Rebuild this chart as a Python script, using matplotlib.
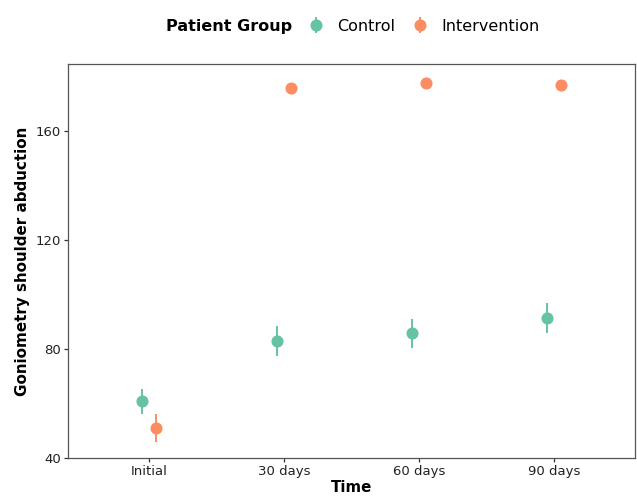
"""Goniometry shoulder abduction by time point and patient group."""

import matplotlib
matplotlib.use("Agg")
import matplotlib.pyplot as plt
import numpy as np

# Данные
time_labels = ["Initial", "30 days", "60 days", "90 days"]
groups = ["Control", "Intervention"]

control_mean = [60.9, 82.9, 85.9, 91.4]
control_err = [4.7, 5.5, 5.3, 5.5]
intervention_mean = [51.2, 176.0, 177.8, 177.1]
intervention_err = [5.1, 0.8, 0.6, 0.6]

colors = {"Control": "#66C2A5", "Intervention": "#FC8D62"}
DODGE = 0.05

fig = plt.figure(figsize=(6.37, 4.97), dpi=100)
ax = fig.add_axes([0.107, 0.078, 0.890, 0.793])

x = np.arange(1, len(time_labels) + 1)
handles = []
for name, means, errs, shift in [
    ("Control", control_mean, control_err, -DODGE),
    ("Intervention", intervention_mean, intervention_err, DODGE),
]:
    h = ax.errorbar(x + shift, means, yerr=errs, fmt="o", color=colors[name],
                    markersize=7.7, elinewidth=1.4, capsize=0, label=name)
    handles.append(h)

ax.set_xlim(0.4, 4.6)
ax.set_ylim(40, 184.7)
ax.set_xticks(x)
ax.set_xticklabels(time_labels)
ax.set_yticks([40, 80, 120, 160])

for spine in ax.spines.values():
    spine.set_color("#555555")
    spine.set_linewidth(0.9)
ax.tick_params(axis="both", length=3, width=0.9, color="#333333",
               labelsize=9.5, labelcolor="#222222", pad=2)

ax.set_xlabel("Time", fontsize=10.8, fontweight="bold", labelpad=1)
ax.set_ylabel("Goniometry shoulder abduction", fontsize=10.9,
              fontweight="bold", labelpad=4)

# Легенда сверху: заголовок слева, элементы в одну строку
fig.text(0.261, 0.947, "Patient Group", fontsize=11.5, fontweight="bold",
         ha="left", va="center")
fig.legend(handles=handles, labels=groups, loc="center left",
           bbox_to_anchor=(0.471, 0.947), ncol=2, frameon=False,
           fontsize=11.5, handlelength=1.0, handletextpad=0.8,
           columnspacing=1.1, borderpad=0)

fig.savefig("out.png", dpi=100)
